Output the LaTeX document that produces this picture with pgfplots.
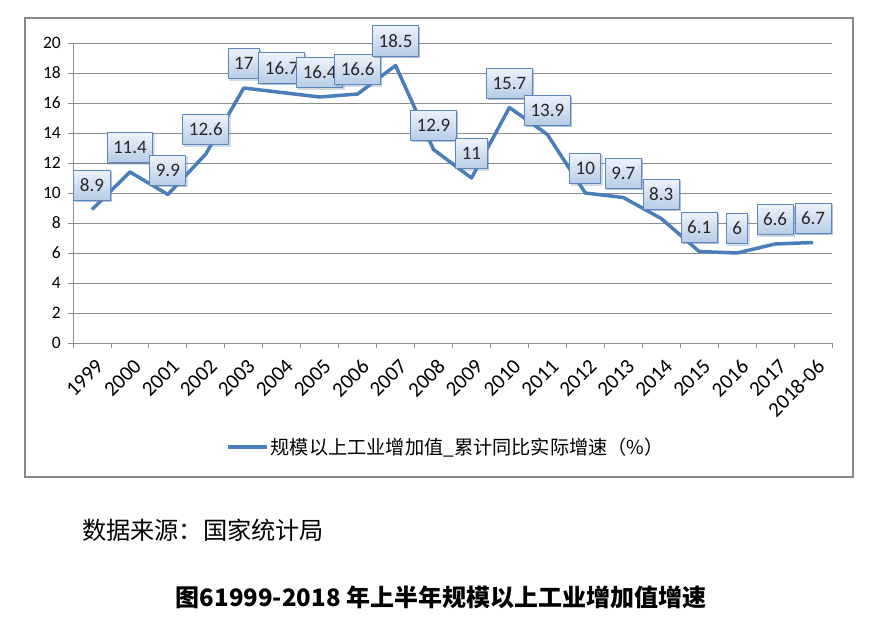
\documentclass[border=0pt]{standalone}
\usepackage{fontspec}
\setmainfont{Carlito}
\newfontfamily\cjk{Noto Sans CJK SC}
\usepackage{pgfplots}
\pgfplotsset{compat=1.18}
\usetikzlibrary{shadows}
\definecolor{linblue}{HTML}{4A7EBB}
\definecolor{boxedge}{HTML}{5B87C0}
\definecolor{boxtop}{HTML}{EEF3FA}
\definecolor{boxbot}{HTML}{B7CCE6}
\definecolor{gridgray}{HTML}{8C8C8C}
\definecolor{framegray}{HTML}{888888}

\begin{document}
\begin{tikzpicture}
% page = 879 x 627 px, 1px = 1bp, axis box SW corner at (0,0)
\path[use as bounding box] (-73bp,-284bp) rectangle (806bp,343bp);
\draw[framegray, line width=1.5bp] (-48bp,-134bp) rectangle (780bp,325bp);
\begin{axis}[
  scale only axis,
  width=759bp, height=300bp,
  xmin=-0.5, xmax=19.5,
  ymin=0, ymax=20,
  ytick={0,2,...,20},
  xtick={0,...,19},
  xticklabels={1999,2000,2001,2002,2003,2004,2005,2006,2007,2008,2009,2010,2011,2012,2013,2014,2015,2016,2017,2018-06},
  minor xtick={-0.5,0.5,...,19.5},
  every major x tick/.append style={draw=none},
  tick align=outside,
  major tick length=5bp, minor tick length=5bp,
  axis lines*=left,
  axis line style={gridgray, line width=0.8bp},
  tick style={gridgray, line width=0.8bp},
  ymajorgrids,
  grid style={gridgray, line width=0.8bp},
  /pgf/number format/assume math mode=true,
  yticklabel style={font=\fontsize{17.5bp}{19bp}\selectfont, black, inner sep=2bp, xshift=-5bp},
  xticklabel style={font=\fontsize{21bp}{23bp}\selectfont, black, rotate=45,
    anchor=north east, inner sep=1bp, xshift=-4bp, yshift=-8bp},
  legend style={at={(0.4914,-0.3467)}, anchor=center, draw=none, fill=none,
    font=\cjk\fontsize{19.2bp}{21bp}\selectfont, inner sep=0pt},
  legend image code/.code={\draw[#1] (0bp,0bp) -- (39bp,0bp);},
  legend cell align=left,
  clip=false,
  nodes near coords={\pgfmathprintnumber{\pgfplotspointmeta}},
  every node near coord/.style={anchor=center, yshift=24.5bp,
    font=\fontsize{19bp}{21bp}\selectfont, text=black!85,
    draw=boxedge, line width=1bp, top color=boxtop, bottom color=boxbot,
    minimum height=30bp, inner xsep=6bp, inner ysep=0bp,
    drop shadow={shadow xshift=1.5bp, shadow yshift=-1.5bp, opacity=0.3}},
]
\addplot[linblue, line width=3.5bp, line join=round] coordinates {
  (0,8.9) (1,11.4) (2,9.9) (3,12.6) (4,17) (5,16.7) (6,16.4) (7,16.6)
  (8,18.5) (9,12.9) (10,11) (11,15.7) (12,13.9) (13,10) (14,9.7)
  (15,8.3) (16,6.1) (17,6) (18,6.6) (19,6.7)};
\addlegendentry{规模以上工业增加值\_累计同比实际增速（\%）}
\end{axis}
\node[anchor=west, inner sep=0pt, font=\cjk\fontsize{24.2bp}{27bp}\selectfont] at (9bp,-187bp) {数据来源：国家统计局};
\node[anchor=center, inner sep=0pt, font=\cjk\bfseries\fontsize{24bp}{27bp}\selectfont] at (368bp,-254bp) {图61999-2018 年上半年规模以上工业增加值增速};
\end{tikzpicture}
\end{document}
